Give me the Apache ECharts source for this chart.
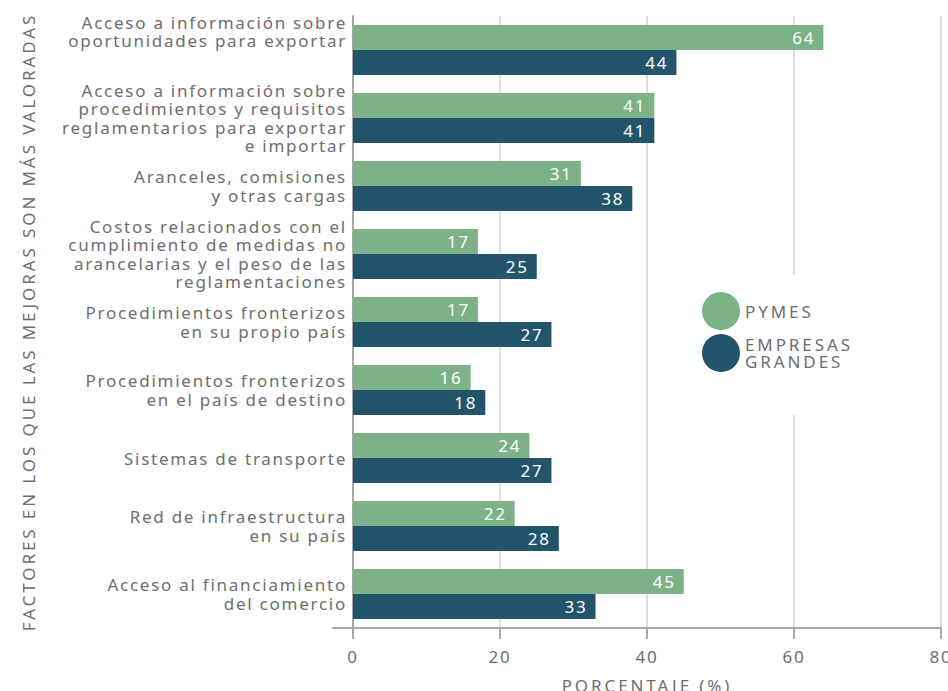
<!DOCTYPE html>
<html>
<head>
<meta charset="utf-8">
<script src="https://cdn.jsdelivr.net/npm/echarts@6/dist/echarts.min.js"></script>
<style>
  html, body { margin: 0; padding: 0; background: #fff; }
  #chart { width: 948px; height: 691px; }
</style>
</head>
<body>
<div id="chart"></div>
<script>
// Factors whose improvement is most valued, by firm size (%)
const categories = [
  'Acceso a información sobre\noportunidades para exportar',
  'Acceso a información sobre\nprocedimientos y requisitos\nreglamentarios para exportar\ne importar',
  'Aranceles, comisiones\ny otras cargas',
  'Costos relacionados con el\ncumplimiento de medidas no\narancelarias y el peso de las\nreglamentaciones',
  'Procedimientos fronterizos\nen su propio país',
  'Procedimientos fronterizos\nen el país de destino',
  'Sistemas de transporte',
  'Red de infraestructura\nen su país',
  'Acceso al financiamiento\ndel comercio'
];
const pymes = [64, 41, 31, 17, 17, 16, 24, 22, 45];
const grandes = [44, 41, 38, 25, 27, 18, 27, 28, 33];
const xTicks = [0, 20, 40, 60, 80];

const GREEN = '#7db187';
const BLUE = '#22556c';
const GRAY = '#6d6e71';
const FONT = 'Noto Sans';

const chart = echarts.init(document.getElementById('chart'), null, { renderer: 'svg' });

const barLabel = {
  show: true,
  position: 'insideRight',
  distance: 8,
  color: '#ffffff',
  fontFamily: FONT,
  fontSize: 17
};

chart.setOption({
  animation: false,
  textStyle: { fontFamily: FONT },
  grid: { left: 353, right: 7, top: 16, bottom: 63, outerBoundsMode: 'none' },
  xAxis: {
    type: 'value',
    min: xTicks[0],
    max: xTicks[xTicks.length - 1],
    interval: 20,
    name: 'PORCENTAJE (%)',
    nameLocation: 'middle',
    nameGap: 49,
    nameTextStyle: { color: GRAY, fontSize: 17, fontFamily: FONT },
    axisLine: { show: true, lineStyle: { color: '#a7a8aa', width: 2 } },
    axisTick: { show: true, length: 11, lineStyle: { color: '#a7a8aa', width: 2 } },
    axisLabel: { color: GRAY, fontSize: 17, margin: 20, fontFamily: FONT },
    splitLine: { show: true, lineStyle: { color: '#d2d3d5', width: 1.5 } }
  },
  yAxis: {
    type: 'category',
    inverse: true,
    data: categories,
    name: 'FACTORES EN LOS QUE LAS MEJORAS SON MÁS VALORADAS',
    nameLocation: 'middle',
    nameRotate: 90,
    nameGap: 316,
    nameTextStyle: { color: GRAY, fontSize: 17, fontFamily: FONT },
    axisLine: { show: true, lineStyle: { color: '#a7a8aa', width: 2 } },
    axisTick: { show: false },
    axisLabel: {
      interval: 0,
      color: GRAY,
      fontSize: 17,
      lineHeight: 18.5,
      margin: 6,
      align: 'right',
      fontFamily: FONT,
      // the first label is raised to sit level with its upper bar
      formatter: function (value, index) {
        return index === 0 ? value + '\n\n' : value;
      }
    }
  },
  legend: {
    orient: 'vertical',
    left: 690,
    top: 275,
    padding: [17, 14, 43, 12],
    itemGap: 4,
    itemWidth: 38,
    itemHeight: 38,
    icon: 'circle',
    backgroundColor: '#ffffff',
    textStyle: { color: GRAY, fontSize: 17, lineHeight: 17, fontFamily: FONT },
    formatter: function (name) { return name.replace(' ', '\n'); },
    data: ['PYMES', 'EMPRESAS GRANDES']
  },
  series: [
    {
      name: 'PYMES',
      type: 'bar',
      data: pymes,
      barWidth: 25,
      barGap: '0%',
      itemStyle: { color: GREEN },
      label: barLabel
    },
    {
      name: 'EMPRESAS GRANDES',
      type: 'bar',
      data: grandes,
      barWidth: 25,
      barGap: '0%',
      itemStyle: { color: BLUE },
      label: barLabel
    }
  ],
  graphic: [
    {
      type: 'line',
      shape: { x1: 332, y1: 628, x2: 353, y2: 628 },
      style: { stroke: '#a7a8aa', lineWidth: 2 }
    }
  ]
});

// Widen the tracking of the text to give it an open, geometric look
function spaceText() {
  document.querySelectorAll('#chart svg text').forEach(function (t) {
    const s = t.textContent || '';
    let ls;
    if (/^[\d\s]+$/.test(s)) ls = '1.8px';
    else if (!/[a-zñáéíóú]/.test(s)) ls = '2.9px';
    else ls = '1.75px';
    t.style.letterSpacing = ls;
  });
}
spaceText();
setTimeout(spaceText, 30);
setTimeout(spaceText, 200);
</script>
</body>
</html>
